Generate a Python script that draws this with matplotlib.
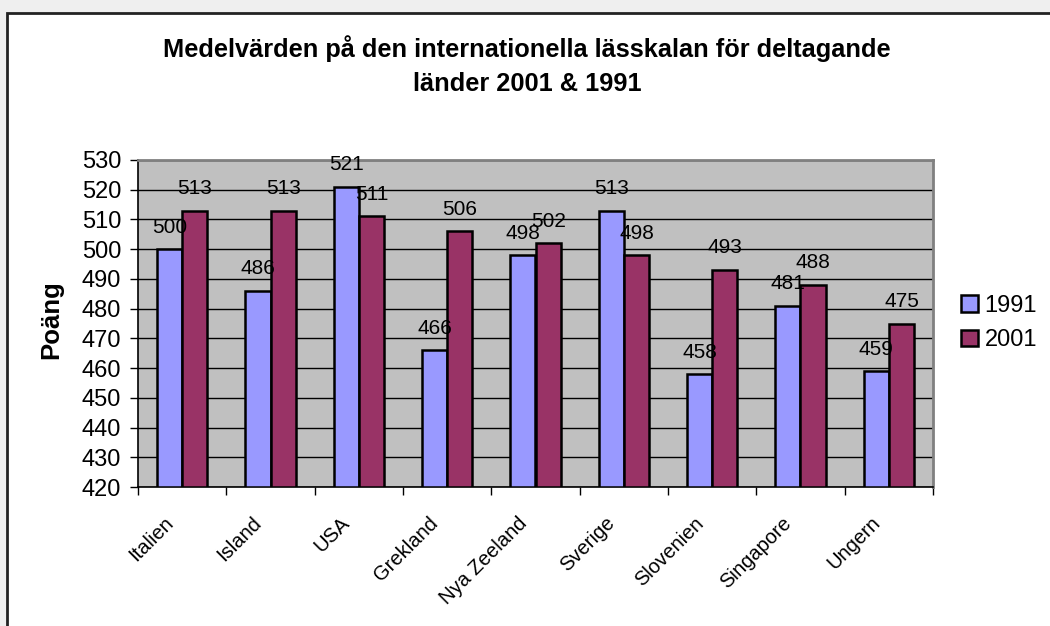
import numpy as np
import matplotlib.pyplot as plt
from matplotlib.patches import Rectangle

plt.rcParams['font.family'] = ['Liberation Sans', 'DejaVu Sans']

# data
countries = ['Italien', 'Island', 'USA', 'Grekland', 'Nya Zeeland',
             'Sverige', 'Slovenien', 'Singapore', 'Ungern']
vals_1991 = [500, 486, 521, 466, 498, 513, 458, 481, 459]
vals_2001 = [513, 513, 511, 506, 502, 498, 493, 488, 475]
series = ['1991', '2001']
colors = ['#9999FF', '#993366']

W, H = 1050, 626
fig = plt.figure(figsize=(W / 100, H / 100), dpi=100)
fig.patch.set_facecolor('#EFEFEF')
# white chart area with dark frame
fig.patches.append(Rectangle((7 / W, -0.01), 1.01, 1 + 0.01 - 13 / H,
                             transform=fig.transFigure, facecolor='white',
                             edgecolor='#222222', lw=2, zorder=-10))

ax = fig.add_axes([138 / W, 1 - 487 / H, 795 / W, 327 / H])
ax.set_facecolor('#C0C0C0')

x = np.arange(len(countries))
w = 1 / 3.5
for i, (vals, c, name) in enumerate(zip([vals_1991, vals_2001], colors, series)):
    pos = x + (i - 0.5) * w
    ax.bar(pos, np.array(vals) - 420, bottom=420, width=w, color=c,
           edgecolor='black', lw=1.8, label=name, zorder=3)
    for p, v in zip(pos, vals):
        ax.annotate(str(v), (p, v), xytext=(0, 9), textcoords='offset points',
                    ha='center', va='bottom', fontsize=15, zorder=5)

ax.set_xlim(-0.5, len(countries) - 0.5)
ax.set_ylim(420, 530)
ax.set_yticks(np.arange(420, 531, 10))
ax.yaxis.grid(True, color='black', lw=1.0, zorder=1)
ax.set_axisbelow(True)
ax.set_xticks(np.arange(-0.5, len(countries), 1), minor=False)
ax.set_xticklabels([])
# category labels sit slightly left of the group centre, like Excel
ax.set_xticks(x - 0.21, minor=True)
ax.set_xticklabels(countries, minor=True, rotation=45, ha='right', va='top',
                   rotation_mode='anchor', fontsize=14.5)
ax.tick_params(axis='x', which='minor', length=0, pad=19)
ax.tick_params(axis='x', which='major', length=6, width=1, direction='out')
ax.tick_params(axis='y', labelsize=17, length=6, width=1, pad=6)
for s in ['top', 'right']:
    ax.spines[s].set_color('#808080')
    ax.spines[s].set_linewidth(2)
for s in ['left', 'bottom']:
    ax.spines[s].set_color('black')
    ax.spines[s].set_linewidth(1.2)

fig.text(51 / W, 1 - 320 / H, 'Poäng', rotation=90, ha='center', va='center',
         fontsize=18.5, fontweight='bold')
fig.text(0.5 + 2 / W, 1 - 57 / H, 'Medelvärden på den internationella lässkalan för deltagande',
         ha='center', va='baseline', fontsize=18.3, fontweight='bold')
fig.text(0.5 + 2 / W, 1 - 91 / H, 'länder 2001 & 1991',
         ha='center', va='baseline', fontsize=18.3, fontweight='bold')

leg = fig.legend(loc='center left', bbox_to_anchor=(961 / W, 1 - 323 / H),
                 frameon=False, fontsize=17, handlelength=0.7, handleheight=0.7,
                 handletextpad=0.3, labelspacing=0.55, borderpad=0,
                 borderaxespad=0)
for h in leg.legend_handles:
    h.set_linewidth(1.8)

fig.savefig('out.png', dpi=100, facecolor=fig.get_facecolor())
